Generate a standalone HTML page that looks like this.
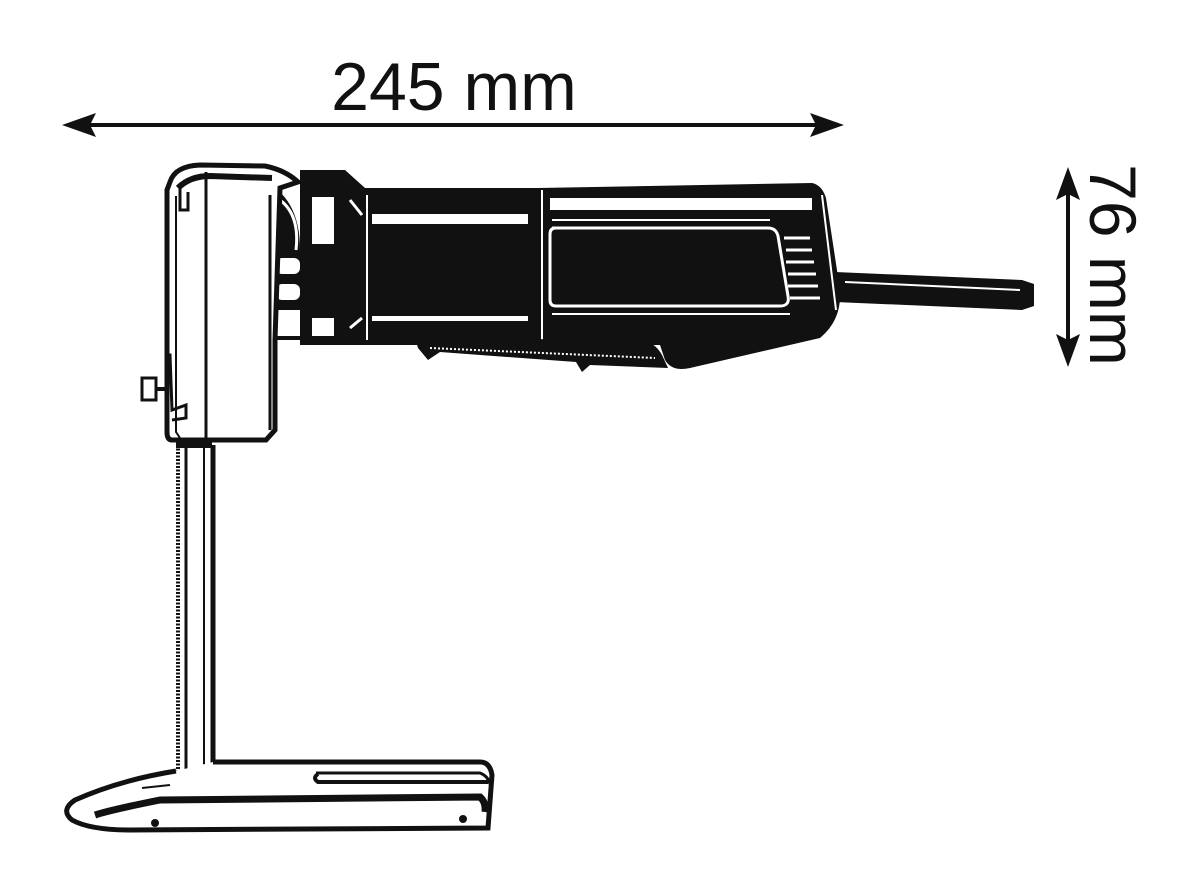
<!DOCTYPE html>
<html><head><style>
html,body{margin:0;padding:0;background:#fff;}
svg{display:block;}
</style></head><body>
<svg width="1200" height="893" viewBox="0 0 1200 893" xmlns="http://www.w3.org/2000/svg">
<!-- 245 mm dimension -->
<text x="454" y="110" font-family="Liberation Sans, sans-serif" font-size="68" text-anchor="middle" fill="#111">245 mm</text>
<line x1="80" y1="125" x2="826" y2="125" stroke="#111" stroke-width="4"/>
<polygon points="62,125 96,113 90,125 96,137" fill="#111"/>
<polygon points="844,125 810,113 816,125 810,137" fill="#111"/>
<!-- 76 mm dimension -->
<line x1="1068" y1="185" x2="1068" y2="350" stroke="#111" stroke-width="4"/>
<polygon points="1068,167 1056,200 1068,194 1080,200" fill="#111"/>
<polygon points="1068,367 1056,334 1068,340 1080,334" fill="#111"/>
<text transform="translate(1090,265) rotate(90)" font-family="Liberation Sans, sans-serif" font-size="66" text-anchor="middle" fill="#111">76 mm</text>

<!-- handle rod -->
<path d="M835,272 L1022,280 L1034,284 L1034,306 L1022,310 L835,302 Z" fill="#111"/>
<line x1="845" y1="282" x2="1020" y2="290" stroke="#fff" stroke-width="2"/>

<!-- rear body -->
<path d="M538,188 L812,183 Q822,185 826,198 L840,290 Q842,320 820,338 L690,368 Q672,372 665,360 L660,345 L538,345 Z" fill="#111"/>
<rect x="550" y="198" width="262" height="12" fill="#fff"/>
<path d="M552,228 L768,228 Q776,228 778,236 L788,296 Q790,306 780,306 L556,306 Q550,306 550,300 L550,234 Q550,228 556,228 Z" fill="none" stroke="#fff" stroke-width="3"/>
<line x1="552" y1="220" x2="770" y2="220" stroke="#fff" stroke-width="2"/>
<line x1="552" y1="314" x2="790" y2="314" stroke="#fff" stroke-width="2"/>
<g stroke="#fff" stroke-width="3">
<line x1="784" y1="238" x2="810" y2="238"/>
<line x1="786" y1="250" x2="812" y2="250"/>
<line x1="786" y1="262" x2="814" y2="262"/>
<line x1="788" y1="274" x2="816" y2="274"/>
<line x1="788" y1="286" x2="818" y2="286"/>
<line x1="790" y1="298" x2="820" y2="298"/>
</g>
<line x1="542" y1="190" x2="542" y2="343" stroke="#fff" stroke-width="2"/>
<line x1="822" y1="195" x2="836" y2="310" stroke="#fff" stroke-width="2"/>

<!-- trigger area -->
<path d="M415,338 L640,340 Q655,342 662,355 L668,368 L590,365 L582,372 L576,362 L440,352 L428,360 L418,348 Z" fill="#111"/>
<line x1="430" y1="348" x2="655" y2="358" stroke="#fff" stroke-width="2" stroke-dasharray="2,2"/>

<!-- main tube -->
<rect x="362" y="188" width="178" height="157" fill="#111"/>
<rect x="372" y="214" width="156" height="10" fill="#fff"/>
<rect x="372" y="316" width="156" height="5" fill="#fff"/>
<line x1="367" y1="195" x2="367" y2="340" stroke="#fff" stroke-width="2"/>

<!-- collar -->
<path d="M300,170 L345,170 L365,188 L365,345 L300,345 Z" fill="#111"/>
<rect x="312" y="197" width="22" height="47" fill="#fff"/>
<rect x="312" y="318" width="22" height="18" fill="#fff"/>
<line x1="350" y1="200" x2="362" y2="215" stroke="#fff" stroke-width="3"/>
<line x1="350" y1="328" x2="362" y2="318" stroke="#fff" stroke-width="3"/>

<!-- head connector -->
<path d="M260,180 Q300,195 300,250 L300,340 L272,340 L272,180 Z" fill="#111"/>
<rect x="276" y="258" width="24" height="16" rx="6" fill="#fff"/>
<rect x="276" y="284" width="24" height="16" rx="6" fill="#fff"/>
<rect x="276" y="310" width="24" height="26" fill="#fff"/>
<path d="M280,200 Q300,215 296,250" fill="none" stroke="#fff" stroke-width="3"/>

<!-- head -->
<path d="M170,182 Q175,166 200,165 L265,166 Q285,170 298,182 L280,188 L275,340 L275,430 L266,440 L172,440 Q167,440 167,432 L167,190 Z" fill="#fff" stroke="#111" stroke-width="5"/>
<path d="M178,188 Q190,176 210,176 L272,178" fill="none" stroke="#111" stroke-width="6"/>
<line x1="206" y1="172" x2="206" y2="440" stroke="#111" stroke-width="3"/>
<path d="M180,185 L180,210 L188,210 L188,192" fill="none" stroke="#111" stroke-width="3"/>
<path d="M176,196 L176,432 L180,438" fill="none" stroke="#111" stroke-width="2"/>
<line x1="270" y1="195" x2="270" y2="430" stroke="#111" stroke-width="3"/>
<!-- knob -->
<rect x="142" y="378" width="14" height="22" fill="#fff" stroke="#111" stroke-width="3"/>
<line x1="156" y1="389" x2="168" y2="389" stroke="#111" stroke-width="4"/>
<path d="M165,355 L170,355 L172,410 L186,405 L186,418 L172,420" fill="none" stroke="#111" stroke-width="3"/>

<!-- post -->
<rect x="176" y="440" width="36" height="8" fill="#111"/>
<line x1="178" y1="445" x2="178" y2="780" stroke="#111" stroke-width="4" stroke-dasharray="2,1.5"/>
<line x1="186" y1="445" x2="186" y2="780" stroke="#111" stroke-width="3"/>
<line x1="204" y1="445" x2="204" y2="780" stroke="#111" stroke-width="2"/>
<line x1="213" y1="445" x2="213" y2="770" stroke="#111" stroke-width="5"/>

<!-- base -->
<path d="M176,771 Q120,780 75,800 Q60,810 72,820 Q90,830 130,830 L488,828 L492,775 Q490,762 480,762 L213,762" fill="#fff" stroke="#111" stroke-width="5"/>
<path d="M95,815 Q110,810 160,800 L480,797 Q486,802 485,812" fill="none" stroke="#111" stroke-width="7"/>
<path d="M316,773 L480,773 Q488,776 490,784" fill="none" stroke="#111" stroke-width="3"/>
<path d="M318,774 Q312,778 318,782 L488,782" fill="none" stroke="#111" stroke-width="4"/>
<line x1="142" y1="788" x2="170" y2="785" stroke="#111" stroke-width="2"/>
<circle cx="155" cy="823" r="4" fill="#111"/>
<circle cx="463" cy="819" r="4" fill="#111"/>
</svg>
</body></html>
